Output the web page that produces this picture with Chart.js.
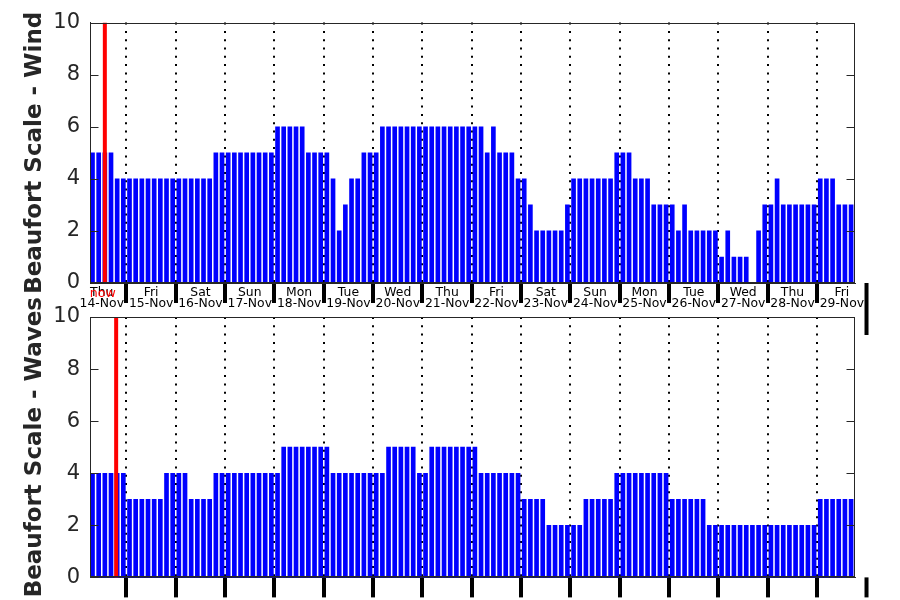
<!DOCTYPE html>
<html>
<head>
<meta charset="utf-8">
<script src="https://cdn.jsdelivr.net/npm/chart.js@4.4.1/dist/chart.umd.min.js"></script>
<style>
  html, body { margin: 0; padding: 0; background: #fff; }
  #wrap { position: relative; width: 900px; height: 600px; }
  #wrap canvas { position: absolute; left: 0; top: 0; }
</style>
</head>
<body>
<div id="wrap">
  <canvas id="wind-chart" width="900" height="600"></canvas>
  <canvas id="wave-chart" width="900" height="600"></canvas>
</div>
<script>
// one forecast bar every 3 hours, hours counted from 14-Nov 00:00
const firstBarHour = 7.5;
const barStepHours = 3;

const windBeaufort = [
  5, 5, 5, 5, 4, 4,
  4, 4, 4, 4, 4, 4, 4, 4,
  4, 4, 4, 4, 4, 4, 5, 5,
  5, 5, 5, 5, 5, 5, 5, 5,
  6, 6, 6, 6, 6, 5, 5, 5,
  5, 4, 2, 3, 4, 4, 5, 5,
  5, 6, 6, 6, 6, 6, 6, 6,
  6, 6, 6, 6, 6, 6, 6, 6,
  6, 6, 5, 6, 5, 5, 5, 4,
  4, 3, 2, 2, 2, 2, 2, 3,
  4, 4, 4, 4, 4, 4, 4, 5,
  5, 5, 4, 4, 4, 3, 3, 3,
  3, 2, 3, 2, 2, 2, 2, 2,
  1, 2, 1, 1, 1, 0, 2, 3,
  3, 4, 3, 3, 3, 3, 3, 3,
  4, 4, 4, 3, 3, 3
];

const waveBeaufort = [
  4, 4, 4, 4, 4, 4,
  3, 3, 3, 3, 3, 3, 4, 4,
  4, 4, 3, 3, 3, 3, 4, 4,
  4, 4, 4, 4, 4, 4, 4, 4,
  4, 5, 5, 5, 5, 5, 5, 5,
  5, 4, 4, 4, 4, 4, 4, 4,
  4, 4, 5, 5, 5, 5, 5, 4,
  4, 5, 5, 5, 5, 5, 5, 5,
  5, 4, 4, 4, 4, 4, 4, 4,
  3, 3, 3, 3, 2, 2, 2, 2,
  2, 2, 3, 3, 3, 3, 3, 4,
  4, 4, 4, 4, 4, 4, 4, 4,
  3, 3, 3, 3, 3, 3, 2, 2,
  2, 2, 2, 2, 2, 2, 2, 2,
  2, 2, 2, 2, 2, 2, 2, 2,
  3, 3, 3, 3, 3, 3
];

const dayNames = ['Thu', 'Fri', 'Sat', 'Sun', 'Mon', 'Tue', 'Wed', 'Thu', 'Fri', 'Sat', 'Sun', 'Mon', 'Tue', 'Wed', 'Thu', 'Fri'];
const dayDates = ['14-Nov', '15-Nov', '16-Nov', '17-Nov', '18-Nov', '19-Nov', '20-Nov', '21-Nov', '22-Nov', '23-Nov', '24-Nov', '25-Nov', '26-Nov', '27-Nov', '28-Nov', '29-Nov'];
const yTicks = [0, 2, 4, 6, 8, 10];

const nowHourWind = 13.5;
const nowHourWave = 19;
const xMinHour = 6.28;
const xMaxHour = 378.4;
const endTickHour = 384; // 30-Nov, just outside the plot

const FONT = 'DejaVu Sans';
const AXIS_GREY = '#262626';
Chart.defaults.font.family = FONT;

function dayTicks() {
  const t = [];
  dayNames.forEach((_, d) => {
    if (d > 0) t.push({ value: d * 24 });   // midnight -> dotted line + thick tick
    t.push({ value: d * 24 + 12 });          // noon -> day label
  });
  return t;
}
const isMidnight = v => v % 24 === 0;
const midnightColor = c => (c.tick && isMidnight(c.tick.value)) ? '#000' : 'rgba(0,0,0,0)';

// Matlab style box, inward y ticks, the extra day tick and the "now" text
const matlabAxes = {
  id: 'matlabAxes',
  afterDraw(chart, args, opts) {
    const { ctx, chartArea: a, scales: { x, y } } = chart;
    ctx.save();
    ctx.strokeStyle = AXIS_GREY;
    ctx.lineWidth = 1;
    const l = Math.round(a.left) + 0.5, r = Math.round(a.right) - 0.5;
    const t = Math.round(a.top) + 0.5, b = Math.round(a.bottom) - 0.5;
    ctx.strokeRect(l, t, r - l, b - t);
    ctx.beginPath();
    yTicks.forEach(v => {
      const py = Math.round(y.getPixelForValue(v)) + 0.5;
      ctx.moveTo(l, py); ctx.lineTo(l + 8, py);
      ctx.moveTo(r, py); ctx.lineTo(r - 8, py);
    });
    ctx.stroke();

    const ex = x.getPixelForValue(endTickHour);
    ctx.fillStyle = '#000';
    ctx.fillRect(ex - 2, a.bottom, 4, opts.endTickLength);

    if (opts.nowLabel) {
      ctx.fillStyle = '#ff0000';
      ctx.font = '12.6px "' + FONT + '"';
      ctx.textAlign = 'center';
      ctx.textBaseline = 'middle';
      ctx.fillText('now', x.getPixelForValue(opts.nowHour) - 2, a.bottom + 11);
    }
    ctx.restore();
  }
};

function buildChart(canvasId, values, nowHour, title, panel) {
  const bars = values.map((v, i) => ({ x: firstBarHour + i * barStepHours, y: v }));
  return new Chart(document.getElementById(canvasId), {
    type: 'bar',
    data: {
      datasets: [
        {
          type: 'line', data: [{ x: nowHour, y: 0 }, { x: nowHour, y: 10 }],
          borderColor: '#ff0000', borderWidth: 4, pointRadius: 0, order: 0
        },
        {
          data: bars, backgroundColor: '#0000ff', borderWidth: 0,
          barThickness: 4, order: 1
        }
      ]
    },
    options: {
      responsive: false,
      animation: false,
      devicePixelRatio: 1,
      layout: { padding: { left: 0, right: 45, top: panel.padTop, bottom: 0 } },
      plugins: {
        legend: { display: false },
        tooltip: { enabled: false },
        matlabAxes: { endTickLength: panel.endTickLength, nowLabel: panel.showLabels, nowHour }
      },
      scales: {
        x: {
          type: 'linear', min: xMinHour, max: xMaxHour, z: 1,
          offset: false,
          afterBuildTicks: axis => { axis.ticks = dayTicks(); },
          afterFit: axis => { axis.height = panel.xAxisHeight; },
          grid: {
            offset: false,
            color: midnightColor,
            lineWidth: 2,
            tickLength: 20,
            tickWidth: 4,
            tickColor: midnightColor
          },
          border: { color: AXIS_GREY, width: 1, dash: [2, 6.3] },
          ticks: {
            display: panel.showLabels,
            autoSkip: false, maxRotation: 0, minRotation: 0,
            color: '#000',
            font: { size: 12.4, lineHeight: 0.85 },
            padding: -15,
            callback: v => isMidnight(v) ? '' : [dayNames[(v - 12) / 24], dayDates[(v - 12) / 24]]
          }
        },
        y: {
          min: 0, max: 10,
          afterBuildTicks: axis => { axis.ticks = yTicks.map(v => ({ value: v })); },
          afterFit: axis => { axis.width = 90; },
          grid: { display: false, drawTicks: false },
          border: { color: AXIS_GREY },
          ticks: { color: AXIS_GREY, font: { size: 21 }, padding: 10 },
          title: {
            display: true, text: title, color: AXIS_GREY,
            font: { size: 23, weight: 'bold' },
            padding: { top: 21, bottom: 0 }
          }
        }
      }
    },
    plugins: [matlabAxes]
  });
}

buildChart('wind-chart', windBeaufort, nowHourWind, 'Beaufort Scale - Wind',
  { padTop: 18, xAxisHeight: 317, showLabels: true, endTickLength: 52 });
buildChart('wave-chart', waveBeaufort, nowHourWave, 'Beaufort Scale - Waves',
  { padTop: 317, xAxisHeight: 20, showLabels: false, endTickLength: 20 });
</script>
</body>
</html>
